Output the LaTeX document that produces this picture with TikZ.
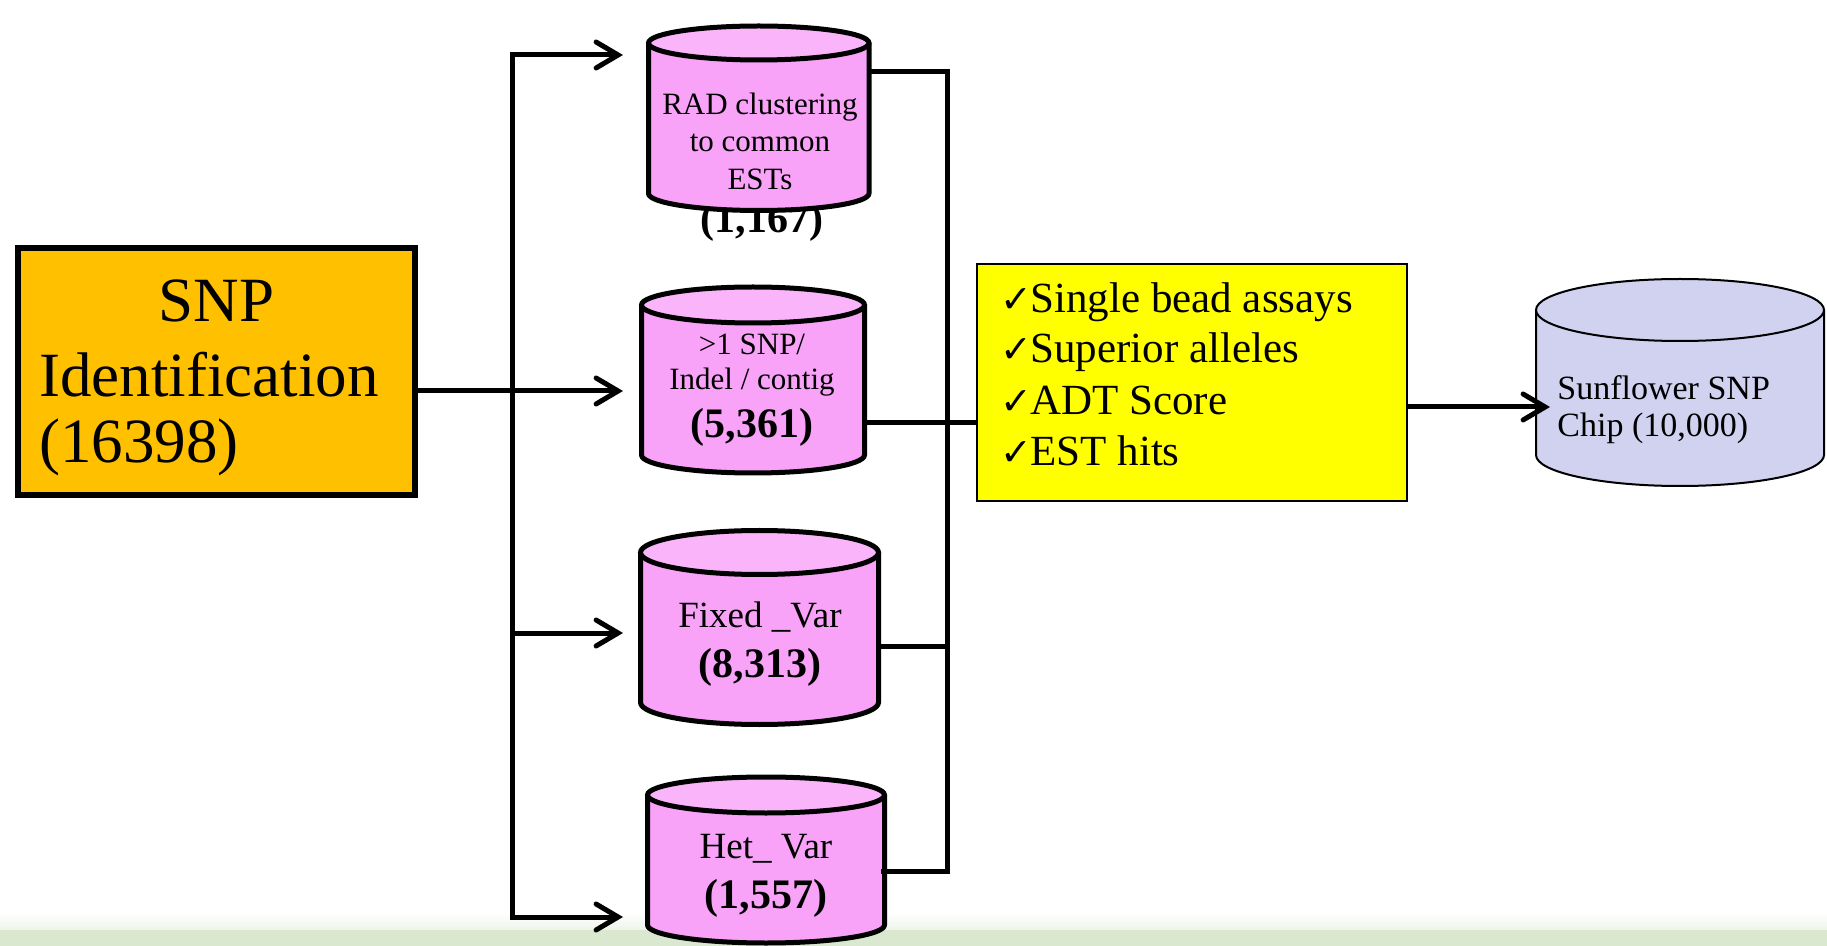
\documentclass[tikz,border=0pt]{standalone}
\usepackage{fontspec}
\setmainfont{Liberation Serif}
\newfontfamily\chkfont{DejaVu Sans}
\usetikzlibrary{arrows.meta}
\definecolor{snporange}{HTML}{FFC000}
\definecolor{crityellow}{HTML}{FFFF00}
\definecolor{pinkbody}{HTML}{F8A2F8}
\definecolor{pinktop}{HTML}{FAB5FA}
\definecolor{chipblue}{HTML}{D1D1F0}
\definecolor{bandgreen}{HTML}{DAE8D0}
% #1 xl, #2 xr, #3 top centre y, #4 bottom centre y, #5 ry, #6 body colour, #7 top colour, #8 line width
\newcommand\mycyl[8]{%
  \fill[#6] (#1,#3) -- (#1,#4) arc[start angle=180,end angle=0,x radius={(#2-#1)/2},y radius=#5] -- (#2,#3) -- cycle;
  \draw[line width=#8,line join=round] (#1,#3) -- (#1,#4) arc[start angle=180,end angle=0,x radius={(#2-#1)/2},y radius=#5] -- (#2,#3);
  \filldraw[fill=#7,line width=#8] ({(#1+#2)/2},#3) ellipse[x radius={(#2-#1)/2},y radius=#5];
}
\newcommand\chk{\makebox[15pt][l]{\chkfont\bfseries\fontsize{19}{19}\selectfont ✓}}
\begin{document}
\begin{tikzpicture}[x=0.5pt,y=-0.5pt,
  >={Straight Barb[length=11pt,width=13pt,line cap=round]},
  conn/.style={line width=2.5pt},
  lbl/.style={inner sep=0pt,anchor=base},
  lblw/.style={inner sep=0pt,anchor=base west},
  bigfont/.style={font=\fontsize{31.5}{35}\selectfont},
  cfont/.style={font=\fontsize{15.5}{18}\selectfont},
  dfont/.style={font=\fontsize{18.5}{21}\selectfont},
  numfont/.style={font=\fontsize{21}{24}\selectfont\bfseries},
  yfont/.style={font=\fontsize{21.5}{25}\selectfont},
  sfont/.style={font=\fontsize{17}{19}\selectfont}]
\useasboundingbox (0,0) rectangle (1827,946);
\fill[white] (0,0) rectangle (1827,946);
\shade[top color=white,bottom color=bandgreen!45] (0,912) rectangle (1827,930);
\fill[bandgreen] (0,930) rectangle (1827,946);

% coordinates of connector ends
\coordinate (bT) at (512,55);
\coordinate (bB) at (512,917);
\coordinate (aT) at (623,55);
\coordinate (aB) at (623,917);
\coordinate (a2) at (623,391);
\coordinate (b3) at (512,633);
\coordinate (a3) at (623,633);

% SNP box
\node[draw,line width=3pt,fill=snporange,minimum width=198.5pt,minimum height=123.5pt,inner sep=0pt] (snp) at (216.5,371.5) {};
\node[lbl,bigfont] (snp1) at (216.5,322) {SNP};
\node[lblw,bigfont] (snp2) at (39,397) {Identification};
\node[lblw,bigfont] (snp3) at (39,463) {(16398)};

% left connectors
\draw[conn,<->] (aT) -- (bT) -- (bB) -- (aB);
\draw[conn,->] (snp.east |- a2) -- (a2);
\draw[conn,->] (b3) -- (a3);

% cylinder 1 (count label lies behind it)
\node[lbl,numfont] (n1) at (762,233) {(1,167)};
\mycyl{648.5}{869}{43}{193.5}{17}{pinkbody}{pinktop}{2.5pt}
\coordinate (cyl1) at (758.75,118);
\node[lbl,cfont] (r1a) at (760,115) {RAD clustering};
\node[lbl,cfont] (r1b) at (760,152) {to common};
\node[lbl,cfont] (r1c) at (760,190) {ESTs};

% cylinder 2
\mycyl{641.5}{864.5}{305}{455}{18}{pinkbody}{pinktop}{2.5pt}
\coordinate (cyl2) at (753,380);
\node[lbl,cfont] (r2a) at (752,355) {>1 SNP/};
\node[lbl,cfont] (r2b) at (752,390) {Indel / contig};
\node[lbl,numfont] (n2) at (752,438) {(5,361)};

% cylinder 3
\mycyl{640.5}{878.5}{552.5}{702.5}{22}{pinkbody}{pinktop}{2.5pt}
\coordinate (cyl3) at (759.5,627);
\node[lbl,dfont] (r3a) at (760,627) {Fixed \_Var};
\node[lbl,numfont] (n3) at (760,677) {(8,313)};

% cylinder 4
\mycyl{647.5}{884.5}{795}{925}{18}{pinkbody}{pinktop}{2.5pt}
\coordinate (cyl4) at (766,860);
\node[lbl,dfont] (r4a) at (766,858) {Het\_ Var};
\node[lbl,numfont] (n4) at (766,908) {(1,557)};

% criteria box
\node[draw,line width=1pt,fill=crityellow,minimum width=215pt,minimum height=118.5pt,inner sep=0pt] (crit) at (1192,382.5) {};
\node[lblw,yfont] (k1) at (1000,313) {\chk Single bead assays};
\node[lblw,yfont] (k2) at (1000,363) {\chk Superior alleles};
\node[lblw,yfont] (k3) at (1000,415) {\chk ADT Score};
\node[lblw,yfont] (k4) at (1000,466) {\chk EST hits};

% right-hand collector
\coordinate (c1o) at (869,72);
\coordinate (r1) at (947,72);
\coordinate (r4) at (947,871);
\coordinate (c4o) at (881,871);
\coordinate (c2o) at (864.5,423);
\coordinate (c3o) at (878.5,646);
\coordinate (r3) at (947,646);
\draw[conn] (c1o) -- (r1) -- (r4) -- (c4o);
\draw[conn] (c2o) -- (crit.west |- c2o);
\draw[conn] (c3o) -- (r3);

% chip cylinder
\mycyl{1536}{1824}{310}{455}{31}{chipblue}{chipblue}{1pt}
\coordinate (chip) at (1680,380);
\node[lblw,sfont] (s1) at (1557,400) {Sunflower SNP};
\node[lblw,sfont] (s2) at (1557,437) {Chip (10,000)};

\coordinate (yo) at (1408,407);
\coordinate (chipin) at (1550,407);
\draw[conn,->] (crit.east |- yo) -- (chipin);
\end{tikzpicture}
\end{document}
